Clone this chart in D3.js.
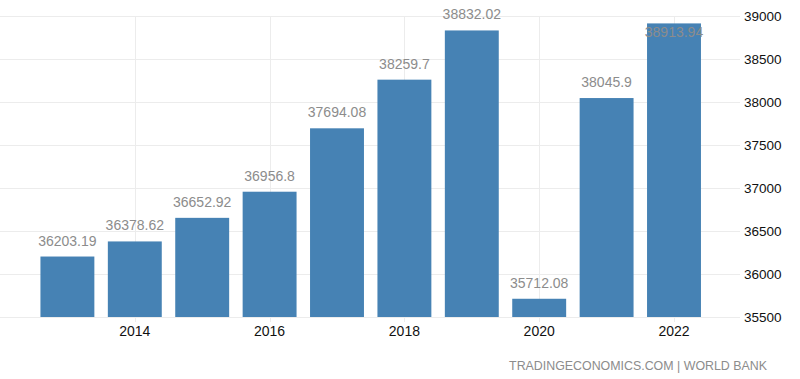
<!doctype html>
<html lang="en">
  <head>
    <meta charset="UTF-8" />
    <title>Chart</title>
    <style>
      body { margin: 0; background: #fff; }
      svg { display: block; font-family: "Liberation Sans", Arial, sans-serif; }
    </style>
  </head>
  <body>
    <svg id="chart"></svg>
    <script src="https://d3js.org/d3.v7.min.js"></script>
    <script>
      const years = [2013, 2014, 2015, 2016, 2017, 2018, 2019, 2020, 2021, 2022];
      const values = [36203.19, 36378.62, 36652.92, 36956.8, 37694.08, 38259.7, 38832.02, 35712.08, 38045.9, 38913.94];
      const labels = ["36203.19", "36378.62", "36652.92", "36956.8", "37694.08", "38259.7", "38832.02", "35712.08", "38045.9", "38913.94"];
      const yTicks = [35500, 36000, 36500, 37000, 37500, 38000, 38500, 39000];
      const xTicks = [2014, 2016, 2018, 2020, 2022];

      const width = 800, height = 379;
      const svg = d3.select("#chart").attr("width", width).attr("height", height);

      const x = d3.scaleBand().domain(years).range([33.7, 707.7])
        .paddingInner(0.2).paddingOuter(0.1);
      const y = d3.scaleLinear().domain([35500, 39000]).range([317, 16]);

      // grid
      const grid = svg.append("g").attr("stroke", "#ececec").attr("stroke-width", 1);
      yTicks.forEach((t) => {
        grid.append("line").attr("x1", 0).attr("x2", 740)
          .attr("y1", Math.round(y(t)) + 0.5).attr("y2", Math.round(y(t)) + 0.5);
      });
      xTicks.forEach((t) => {
        const cx = Math.round(x(t) + x.bandwidth() / 2) + 0.5;
        grid.append("line").attr("x1", cx).attr("x2", cx).attr("y1", 16).attr("y2", 322);
      });

      // bars
      svg.append("g").selectAll("rect").data(years).join("rect")
        .attr("x", (d) => x(d))
        .attr("width", x.bandwidth())
        .attr("y", (d, i) => y(values[i]))
        .attr("height", (d, i) => y(35500) - y(values[i]))
        .attr("fill", "#4682b4");

      // value labels
      svg.append("g").selectAll("text").data(years).join("text")
        .attr("x", (d) => x(d) + x.bandwidth() / 2)
        .attr("y", (d, i) => {
          const top = y(values[i]);
          return top < 28 ? top + 14 : top - 11;
        })
        .attr("text-anchor", "middle")
        .attr("font-size", 14)
        .attr("fill", "#8c8c8c")
        .text((d, i) => labels[i]);

      // y axis labels (right)
      svg.append("g").selectAll("text").data(yTicks).join("text")
        .attr("x", 744)
        .attr("y", (d) => y(d) + 5)
        .attr("font-size", 13.5)
        .attr("fill", "#111")
        .text((d) => d);

      // x axis labels
      svg.append("g").selectAll("text").data(xTicks).join("text")
        .attr("x", (d) => x(d) + x.bandwidth() / 2)
        .attr("y", 336)
        .attr("text-anchor", "middle")
        .attr("font-size", 14)
        .attr("fill", "#111")
        .text((d) => d);

      svg.append("text")
        .attr("x", 767).attr("y", 370)
        .attr("text-anchor", "end")
        .attr("font-size", 12.4)
        .attr("fill", "#8c8c8c")
        .text("TRADINGECONOMICS.COM | WORLD BANK");
    </script>
  </body>
</html>
